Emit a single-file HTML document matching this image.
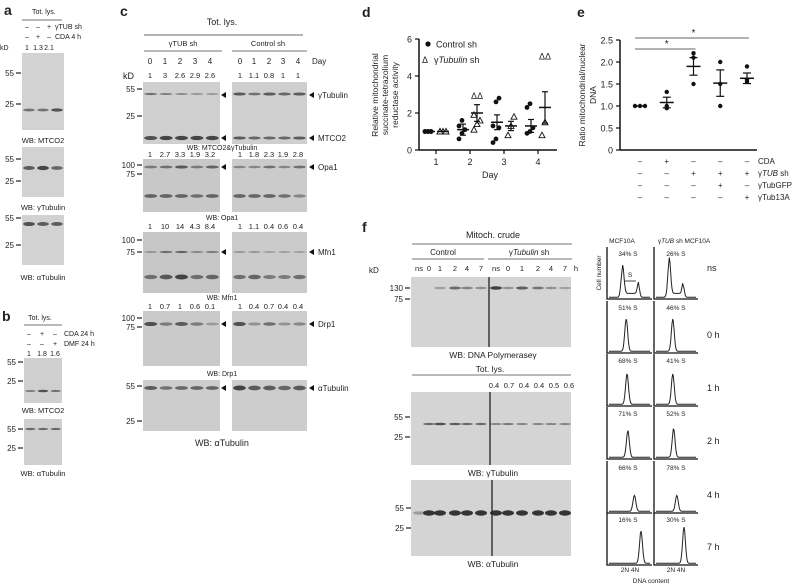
<!DOCTYPE html>
<html><head><meta charset="utf-8">
<style>
html,body{margin:0;padding:0;background:#fff;}
svg{display:block;font-family:"Liberation Sans",Arial,sans-serif;}
</style></head>
<body>
<svg id="fig" width="800" height="585" viewBox="0 0 800 585" xmlns="http://www.w3.org/2000/svg"></svg>
<script>
// ---- chart data: panel d ----
const dDays = [1, 2, 3, 4];
const dControl = [[1,1,1,1,1,1],[0.6,0.9,1.1,1.3,1.6],[0.4,0.6,1.2,1.3,2.6,2.8],[0.9,1.0,1.2,2.3,2.5]];
const dControlMean = [1, 1.1, 1.5, 1.3];
const dControlErr = [0, 0.3, 0.4, 0.35];
const dTub = [[1,1,1,1],[1.1,1.4,1.6,1.9],[0.8,1.3,1.8],[0.8,1.5]];
const dTubMean = [1, 2.0, 1.3, 2.3];
const dTubErr = [0, 0.45, 0.25, 0.85];
const dYTicks = [0, 2, 4, 6];
// ---- chart data: panel e ----
const eValues = [[1,1,1],[0.95,1.0,1.32],[1.5,2.1,2.2],[1.0,1.5,2.0],[1.55,1.6,1.9]];
const eMean = [1, 1.08, 1.9, 1.52, 1.63];
const eErr = [0, 0.12, 0.2, 0.3, 0.12];
const eYTicks = [0, 0.5, 1.0, 1.5, 2.0, 2.5];
const eRowCDA = ['–','+','–','–','–'];
const eRowSh = ['–','–','+','+','+'];
const eRowGFP = ['–','–','–','+','–'];
const eRow13A = ['–','–','–','–','+'];
// ---- flow data: panel f ----
const flowTimes = ['ns','0 h','1 h','2 h','4 h','7 h'];
const flowLabA = ['34% S','51% S','68% S','71% S','66% S','16% S'];
const flowLabB = ['26% S','46% S','41% S','52% S','78% S','30% S'];
const flowPeakA = [0.33,0.42,0.44,0.46,0.62,0.78];
const flowHeightA = [0.75,0.85,0.8,0.7,0.42,0.85];
const flowG2A = [0.72,0,0,0,0,0];
const flowPeakB = [0.33,0.42,0.42,0.44,0.52,0.7];
const flowHeightB = [0.95,0.85,0.8,0.75,0.42,0.95];
const flowG2B = [0.68,0,0,0,0,0];

const NS = 'http://www.w3.org/2000/svg';
const svg = document.getElementById('fig');
function mk(tag, attrs, parent){
  const e = document.createElementNS(NS, tag);
  for (const k in attrs) e.setAttribute(k, attrs[k]);
  (parent || svg).appendChild(e);
  return e;
}
function txt(x, y, s, size, anchor, name, extra){
  const t = mk('text', Object.assign({x:x, y:y, 'font-size':size, 'text-anchor':anchor||'middle', fill:'#222'}, extra||{}));
  t.textContent = s;
  
  
  return t;
}
function line(x1,y1,x2,y2,name,w,c){
  const l = mk('line',{x1:x1,y1:y1,x2:x2,y2:y2,stroke:c||'#444','stroke-width':w||1});
  
  
  return l;
}
function blot(x,y,w,h,name,bands,shade){
  const g = mk('g',{});
  
  
  mk('rect',{x:x,y:y,width:w,height:h,fill:shade||'#cfcfcf'},g);
  bands.forEach(b=>{
    const n = b.n, lw = w/n;
    for(let i=0;i<n;i++){
      const inten = b.i ? b.i[i] : 1;
      mk('ellipse',{cx:x+lw*(i+0.5),cy:b.y,rx:lw*0.42,ry:(b.h||2)*(0.5+0.35*inten),fill:'#222',opacity:Math.min(1,0.15+0.65*inten)},g);
    }
  });
  return g;
}
function marker(x,y,label,name){
  line(x-6,y,x-1,y,name+'-tick',1.2,'#222');
  txt(x-8,y+3,label,8,'end',name+'-label');
}
function arrowL(x,y,name){
  const p = mk('polygon',{points:`${x},${y} ${x+5},${y-3} ${x+5},${y+3}`,fill:'#111'});
  
  
}

// ================= Panel a =================
txt(4,15,'a',14,'start','panel-a-letter',{'font-weight':'bold'});
txt(32,14,'Tot. lys.',7,'start','panel-a-header');
line(22,20,62,20,'panel-a-header-line',0.8);
['–','–','+'].forEach((s,i)=>txt(27+i*11,29,s,7,'middle','panel-a-sh-sign'));
txt(55,29,'γTUB sh',7,'start','panel-a-sh-label');
['–','+','–'].forEach((s,i)=>txt(27+i*11,39,s,7,'middle','panel-a-cda-sign'));
txt(55,39,'CDA 4 h',7,'start','panel-a-cda-label');
txt(0,50,'kD',7,'start','panel-a-kd');
['1','1.3','2.1'].forEach((s,i)=>txt(27+i*11,50,s,7,'middle','panel-a-ratio'));
blot(22,53,42,77,'panel-a-mtco2-blot',[{y:110,n:3,h:2,i:[0.6,0.6,0.9]}],'#d2d2d2');
marker(22,73,'55','panel-a-m55'); marker(22,104,'25','panel-a-m25');
txt(43,143,'WB: MTCO2',7.5,'middle','panel-a-wb-mtco2');
blot(22,147,42,50,'panel-a-gtub-blot',[{y:168,n:3,h:2.5,i:[0.8,1,0.7]}],'#d2d2d2');
marker(22,159,'55','panel-a-m55b'); marker(22,181,'25','panel-a-m25b');
txt(43,210,'WB: γTubulin',7.5,'middle','panel-a-wb-gtub');
blot(22,215,42,50,'panel-a-atub-blot',[{y:224,n:3,h:2.5,i:[0.9,0.8,0.8]}],'#d2d2d2');
marker(22,218,'55','panel-a-m55c'); marker(22,245,'25','panel-a-m25c');
txt(43,280,'WB: αTubulin',7.5,'middle','panel-a-wb-atub');

// ================= Panel b =================
txt(2,321,'b',14,'start','panel-b-letter',{'font-weight':'bold'});
txt(40,320,'Tot. lys.',7,'middle','panel-b-header');
line(24,325,62,325,'panel-b-header-line',0.8);
['–','+','–'].forEach((s,i)=>txt(29+i*13,336,s,7,'middle','panel-b-cda-sign'));
txt(64,336,'CDA 24 h',7,'start','panel-b-cda-label');
['–','–','+'].forEach((s,i)=>txt(29+i*13,346,s,7,'middle','panel-b-dmf-sign'));
txt(64,346,'DMF 24 h',7,'start','panel-b-dmf-label');
['1','1.8','1.6'].forEach((s,i)=>txt(29+i*13,356,s,7,'middle','panel-b-ratio'));
blot(24,358,38,45,'panel-b-mtco2-blot',[{y:391,n:3,h:1.5,i:[0.5,0.9,0.6]}]);
marker(24,362,'55','panel-b-m55'); marker(24,381,'25','panel-b-m25');
txt(43,413,'WB: MTCO2',7.5,'middle','panel-b-wb-mtco2');
blot(24,419,38,46,'panel-b-atub-blot',[{y:429,n:3,h:1.5,i:[0.7,0.7,0.7]}]);
marker(24,429,'55','panel-b-m55b'); marker(24,448,'25','panel-b-m25b');
txt(43,476,'WB: αTubulin',7.5,'middle','panel-b-wb-atub');

// ================= Panel c =================
txt(120,16,'c',14,'start','panel-c-letter',{'font-weight':'bold'});
txt(222,25,'Tot. lys.',9,'middle','panel-c-header');
line(144,35,303,35,'panel-c-header-line',1.2,'#888');
txt(183,46,'γTUB sh',7.5,'middle','panel-c-tub-group');
line(144,51,222,51,'panel-c-tub-line',0.8);
txt(268,46,'Control sh',7.5,'middle','panel-c-control-group');
line(232,51,307,51,'panel-c-control-line',0.8);
const cLX=[150,165,180,195,210], cRX=[240,254,269,283,298];
[0,1,2,3,4].forEach(i=>{txt(cLX[i],64,String(i),8,'middle','panel-c-day');txt(cRX[i],64,String(i),8,'middle','panel-c-day');});
txt(312,64,'Day',8,'start','panel-c-day-label');
txt(123,79,'kD',9,'start','panel-c-kd');
function cRow(yNum, left, right){ left.forEach((s,i)=>txt(cLX[i],yNum,s,7.5,'middle','panel-c-quant')); right.forEach((s,i)=>txt(cRX[i],yNum,s,7.5,'middle','panel-c-quant')); }
cRow(78,['1','3','2.6','2.9','2.6'],['1','1.1','0.8','1','1']);
blot(143,82,77,62,'panel-c-blot1-left',[{y:94,n:5,h:1.5,i:[0.6,0.5,0.4,0.35,0.3]},{y:138,n:5,h:2.5,i:[0.9,1,1,1,1]}]);
blot(232,82,75,62,'panel-c-blot1-right',[{y:94,n:5,h:2,i:[0.8,0.6,0.8,0.7,0.8]},{y:138,n:5,h:2,i:[0.8,0.7,0.7,0.7,0.8]}]);
marker(143,89,'55','panel-c-m55'); marker(143,116,'25','panel-c-m25');
arrowL(221,95,'panel-c-arrow'); arrowL(221,138,'panel-c-arrow'); arrowL(309,95,'panel-c-arrow'); arrowL(309,138,'panel-c-arrow');
txt(318,98,'γTubulin',8,'start','panel-c-gtub-label');
txt(318,141,'MTCO2',8,'start','panel-c-mtco2-label');
txt(222,150,'WB: MTCO2&γTubulin',7,'middle','panel-c-wb1');
cRow(157,['1','2.7','3.3','1.9','3.2'],['1','1.8','2.3','1.9','2.8']);
blot(143,159,77,53,'panel-c-opa1-left',[{y:167,n:5,h:2,i:[0.5,0.6,0.8,0.5,0.7]},{y:196,n:5,h:2.5,i:[0.7,0.7,0.7,0.6,0.7]}],'#c8c8c8');
blot(232,159,75,53,'panel-c-opa1-right',[{y:167,n:5,h:2,i:[0.4,0.4,0.6,0.4,0.6]},{y:196,n:5,h:2.5,i:[0.7,0.7,0.7,0.6,0.4]}],'#cbcbcb');
marker(143,165,'100','panel-c-m100'); marker(143,174,'75','panel-c-m75');
arrowL(221,167,'panel-c-arrow'); arrowL(309,167,'panel-c-arrow');
txt(318,170,'Opa1',8,'start','panel-c-opa1-label');
txt(222,220,'WB: Opa1',7,'middle','panel-c-wb-opa1');
cRow(229,['1','10','14','4.3','8.4'],['1','1.1','0.4','0.6','0.4']);
blot(143,232,77,61,'panel-c-mfn1-left',[{y:252,n:5,h:1.5,i:[0.3,0.6,0.7,0.4,0.5]},{y:277,n:5,h:3,i:[0.6,0.8,1,0.6,0.7]}],'#c6c6c6');
blot(232,232,75,61,'panel-c-mfn1-right',[{y:252,n:5,h:1.5,i:[0.3,0.3,0.2,0.2,0.2]},{y:277,n:5,h:3,i:[0.6,0.7,0.5,0.5,0.6]}],'#cbcbcb');
marker(143,240,'100','panel-c-m100b'); marker(143,252,'75','panel-c-m75b');
arrowL(221,252,'panel-c-arrow'); arrowL(309,252,'panel-c-arrow');
txt(318,255,'Mfn1',8,'start','panel-c-mfn1-label');
txt(222,300,'WB: Mfn1',7,'middle','panel-c-wb-mfn1');
cRow(309,['1','0.7','1','0.6','0.1'],['1','0.4','0.7','0.4','0.4']);
blot(143,311,77,55,'panel-c-drp1-left',[{y:324,n:5,h:2.5,i:[0.9,0.5,0.8,0.5,0.2]}],'#cacaca');
blot(232,311,75,55,'panel-c-drp1-right',[{y:324,n:5,h:2.5,i:[0.9,0.3,0.6,0.3,0.4]}],'#cdcdcd');
marker(143,318,'100','panel-c-m100c'); marker(143,327,'75','panel-c-m75c');
arrowL(221,324,'panel-c-arrow'); arrowL(309,324,'panel-c-arrow');
txt(318,327,'Drp1',8,'start','panel-c-drp1-label');
txt(222,376,'WB: Drp1',7,'middle','panel-c-wb-drp1');
blot(143,380,77,51,'panel-c-atub-left',[{y:388,n:5,h:2.5,i:[0.8,0.6,0.7,0.7,0.7]}],'#cdcdcd');
blot(232,380,75,51,'panel-c-atub-right',[{y:388,n:5,h:3,i:[1,0.8,0.8,0.7,0.8]}],'#cdcdcd');
marker(143,386,'55','panel-c-m55d'); marker(143,421,'25','panel-c-m25d');
arrowL(221,388,'panel-c-arrow'); arrowL(309,388,'panel-c-arrow');
txt(318,391,'αTubulin',8,'start','panel-c-atub-label');
txt(222,446,'WB: αTubulin',9,'middle','panel-c-wb-atub');

// ================= Panel d =================
txt(362,17,'d',14,'start','panel-d-letter',{'font-weight':'bold'});
const dx = d => 436 + (d-1)*34;
const dy = v => 150 - v*18.5;
line(419,39,419,150.5,'panel-d-y-axis',1.5,'#111');
line(419,150,557,150,'panel-d-x-axis',1.5,'#111');
dYTicks.forEach(v=>{line(415,dy(v),419,dy(v),'panel-d-y-tick',1.2,'#111');txt(412,dy(v)+3.5,String(v),9,'end','panel-d-y-tick-label');});
dDays.forEach(d=>{line(dx(d),150,dx(d),154,'panel-d-x-tick',1.2,'#111');txt(dx(d),165,String(d),9,'middle','panel-d-x-tick-label');});
txt(490,178,'Day',9,'middle','panel-d-x-title');
const dt = mk('g',{transform:'translate(388,95) rotate(-90)'});


[['Relative mitochondrial',-10],['succinate-tetrazolium',0],['reductase activity',10]].forEach(a=>{const t=mk('text',{x:0,y:a[1],'font-size':8.5,'text-anchor':'middle',fill:'#222'},dt);t.textContent=a[0];});
dDays.forEach((d,k)=>{
  dControl[k].forEach((v,i)=>{const c=mk('circle',{cx:dx(d)-8+((i%3)-1)*3,cy:dy(v),r:2.4,fill:'#111'});});
  dTub[k].forEach((v,i)=>{const x=dx(d)+7+((i%3)-1)*3,y=dy(v);const p=mk('polygon',{points:`${x},${y-3} ${x-3},${y+2.5} ${x+3},${y+2.5}`,fill:'#fff',stroke:'#111','stroke-width':0.9});});
  [[dControlMean,dControlErr,-7],[dTubMean,dTubErr,7]].forEach(s=>{
    const cx=dx(d)+s[2], m=s[0][k], e=s[1][k];
    line(cx-6,dy(m),cx+6,dy(m),'panel-d-mean-bar',1.5,'#111');
    if(e>0){line(cx,dy(m-e),cx,dy(m+e),'panel-d-error-bar',1.2,'#111');line(cx-3,dy(m-e),cx+3,dy(m-e),'panel-d-error-cap',1.2,'#111');line(cx-3,dy(m+e),cx+3,dy(m+e),'panel-d-error-cap',1.2,'#111');}
  });
});
txt(dx(2)+7,dy(2.75),'ΔΔ',9,'middle','panel-d-significance');
txt(dx(4)+7,dy(4.9),'ΔΔ',9,'middle','panel-d-significance');
const dl1=mk('circle',{cx:428,cy:44,r:2.6,fill:'#111'});
txt(436,47.5,'Control sh',9,'start','legend-control-label');
txt(425,63,'Δ',9,'middle','legend-tubulin-marker');
const lt = txt(434,63,'γ',9,'start','legend-tubulin-label');
const lts=mk('tspan',{'font-style':'italic'},lt); lts.textContent='Tubulin'; const lts2=mk('tspan',{},lt); lts2.textContent=' sh';

// ================= Panel e =================
txt(577,17,'e',14,'start','panel-e-letter',{'font-weight':'bold'});
const ex = i => 640 + i*26.75;
const ey = v => 150 - v*44;
line(620,40,620,150.5,'panel-e-y-axis',1.5,'#111');
line(620,150,757,150,'panel-e-x-axis',1.5,'#111');
eYTicks.forEach(v=>{line(616,ey(v),620,ey(v),'panel-e-y-tick',1.2,'#111');txt(613,ey(v)+3.5,v===0?'0':v.toFixed(1),9,'end','panel-e-y-tick-label');});
const et = mk('g',{transform:'translate(590,95) rotate(-90)'});


[['Ratio mitochondrial/nuclear',-5],['DNA',6]].forEach(a=>{const t=mk('text',{x:0,y:a[1],'font-size':8.5,'text-anchor':'middle',fill:'#222'},et);t.textContent=a[0];});
eValues.forEach((vals,i)=>{
  vals.forEach((v,j)=>{const c=mk('circle',{cx:ex(i)+(i===0?(j-1)*5:0),cy:ey(v),r:2.2,fill:'#111'});});
  const m=eMean[i],e=eErr[i];
  line(ex(i)-7,ey(m),ex(i)+7,ey(m),'panel-e-mean-bar',1.5,'#111');
  if(e>0){line(ex(i),ey(m-e),ex(i),ey(m+e),'panel-e-error-bar',1.2,'#111');line(ex(i)-4,ey(m-e),ex(i)+4,ey(m-e),'panel-e-error-cap',1.2,'#111');line(ex(i)-4,ey(m+e),ex(i)+4,ey(m+e),'panel-e-error-cap',1.2,'#111');}
});
line(ex(0)-5,49,ex(2)+2,49,'panel-e-sig-line-1',1,'#666');
txt((ex(0)+ex(2))/2,47,'*',10,'middle','panel-e-sig-star-1');
line(ex(0)-5,38,ex(4)+2,38,'panel-e-sig-line-2',1,'#666');
txt((ex(0)+ex(4))/2,36,'*',10,'middle','panel-e-sig-star-2');
[[eRowCDA,164,'CDA'],[eRowSh,176,'γTUB sh'],[eRowGFP,188,'γTubGFP'],[eRow13A,200,'γTub13A']].forEach(r=>{
  r[0].forEach((s,i)=>txt(ex(i),r[1],s,8,'middle','panel-e-condition-sign'));
  const l=txt(758,r[1],'',8,'start','panel-e-condition-label');
  if(r[2]==='γTUB sh'){const a=mk('tspan',{},l);a.textContent='γ';const b=mk('tspan',{'font-style':'italic'},l);b.textContent='TUB';const c=mk('tspan',{},l);c.textContent=' sh';}
  else l.textContent=r[2];
});

// ================= Panel f =================
txt(362,232,'f',14,'start','panel-f-letter',{'font-weight':'bold'});
txt(493,238,'Mitoch. crude',9,'middle','panel-f-header');
line(412,244,572,244,'panel-f-header-line',0.8);
txt(443,255,'Control',8,'middle','panel-f-control-group');
line(412,259,484,259,'panel-f-control-line',0.8);
const fg=txt(529,255,'γ',8,'middle','panel-f-tub-group');const fgs=mk('tspan',{'font-style':'italic'},fg);fgs.textContent='Tubulin';const fgs2=mk('tspan',{},fg);fgs2.textContent=' sh';
line(488,259,572,259,'panel-f-tub-line',0.8);
txt(369,273,'kD',8,'start','panel-f-kd');
const fL=['ns','0','1','2','4','7'], fLX=[419,429,440,455,467,481], fRX=[496,508,522,538,551,565];
fL.forEach((s,i)=>{txt(fLX[i],271,s,7.5,'middle','panel-f-lane');txt(fRX[i],271,s,7.5,'middle','panel-f-lane');});
txt(576,271,'h',7.5,'middle','panel-f-lane-unit');
function fblot(y,h,name,bandY,intL,intR,bh,div){
  const g=blot(411,y,160,h,name,[],'#d4d4d4');
  [fLX,fRX].forEach((arr,k)=>arr.forEach((x,i)=>{const inten=(k?intR:intL)[i];if(inten>0){mk('ellipse',{cx:x,cy:bandY,rx:6,ry:bh*(0.5+0.4*inten),fill:'#222',opacity:Math.min(1,0.15+0.75*inten)},g);}}));
  mk('line',{x1:div,y1:y,x2:div,y2:y+h,stroke:'#222','stroke-width':1.3},g);
}
fblot(277,70,'panel-f-polg-blot',288,[0,0,0.2,0.6,0.4,0.3],[0.9,0.3,0.7,0.5,0.3,0.2],2,489);
marker(411,288,'130','panel-f-m130'); marker(411,299,'75','panel-f-m75');
txt(493,358,'WB: DNA Polymeraseγ',8.5,'middle','panel-f-wb-polg');
txt(490,372,'Tot. lys.',8.5,'middle','panel-f-totlys');
line(412,375,571,375,'panel-f-totlys-line',0.8);
['0.4','0.7','0.4','0.4','0.5','0.6'].forEach((s,i)=>txt(494+i*15,388,s,7.5,'middle','panel-f-quant'));
fblot(392,73,'panel-f-gtub-blot',424,[0,0.6,0.8,0.7,0.6,0.6],[0.4,0.5,0.4,0.4,0.4,0.4],1.5,490);
marker(411,417,'55','panel-f-m55'); marker(411,437,'25','panel-f-m25');
txt(493,476,'WB: γTubulin',8.5,'middle','panel-f-wb-gtub');
fblot(480,76,'panel-f-atub-blot',513,[0.2,1,1,1,1,1],[1,1,1,1,1,1],3,492);
marker(412,508,'55','panel-f-m55b'); marker(412,528,'25','panel-f-m25b');
txt(493,567,'WB: αTubulin',8.5,'middle','panel-f-wb-atub');

// flow histograms
txt(622,243,'MCF10A',6.5,'middle','panel-f-flow-header-a');
const fh=txt(684,243,'γ',6.5,'middle','panel-f-flow-header-b');const fh1=mk('tspan',{'font-style':'italic'},fh);fh1.textContent='TUB';const fh2=mk('tspan',{},fh);fh2.textContent=' sh MCF10A';
const rowTop=[247,301,354,407,461,513], rowH=52;
function hist(x0,y0,w,h,peak,ht,g2,name){
  const g=mk('g',{});
  
  
  mk('polyline',{points:`${x0},${y0} ${x0},${y0+h} ${x0+w},${y0+h}`,fill:'none',stroke:'#111','stroke-width':1.3},g);
  let pts=[];
  for(let i=0;i<=60;i++){const f=i/60;let v=ht*Math.exp(-Math.pow((f-peak)/0.05,2));if(g2>0){v+=0.3*Math.exp(-Math.pow((f-g2)/0.04,2));if(f>peak&&f<g2)v+=0.1;}v+=0.02;pts.push(`${(x0+2+f*(w-4)).toFixed(1)},${(y0+h-1-v*(h-14)).toFixed(1)}`);}
  mk('polyline',{points:pts.join(' '),fill:'none',stroke:'#222','stroke-width':1},g);
}
flowTimes.forEach((t,r)=>{
  const y=rowTop[r];
  hist(607,y,45,rowH,flowPeakA[r],flowHeightA[r],flowG2A[r],'flow-histogram-control');
  hist(654,y,44,rowH,flowPeakB[r],flowHeightB[r],flowG2B[r],'flow-histogram-tub');
  txt(628,y+9,flowLabA[r],6.5,'middle','flow-percent-control');
  txt(676,y+9,flowLabB[r],6.5,'middle','flow-percent-tub');
  txt(707,y+(r===0?24:37),t,9,'start','flow-time-label');
});
txt(630,277,'S',6.5,'middle','flow-s-label');
line(625,281,636,281,'flow-s-bracket',0.8,'#111');
txt(0,0,'Cell number',6.5,'middle','flow-y-title',{transform:'translate(601,273) rotate(-90)'});
txt(630,572,'2N 4N',6.5,'middle','flow-x-ticks-a');
txt(676,572,'2N 4N',6.5,'middle','flow-x-ticks-b');
txt(651,583,'DNA content',6.5,'middle','flow-x-title');
</script>
</body></html>
